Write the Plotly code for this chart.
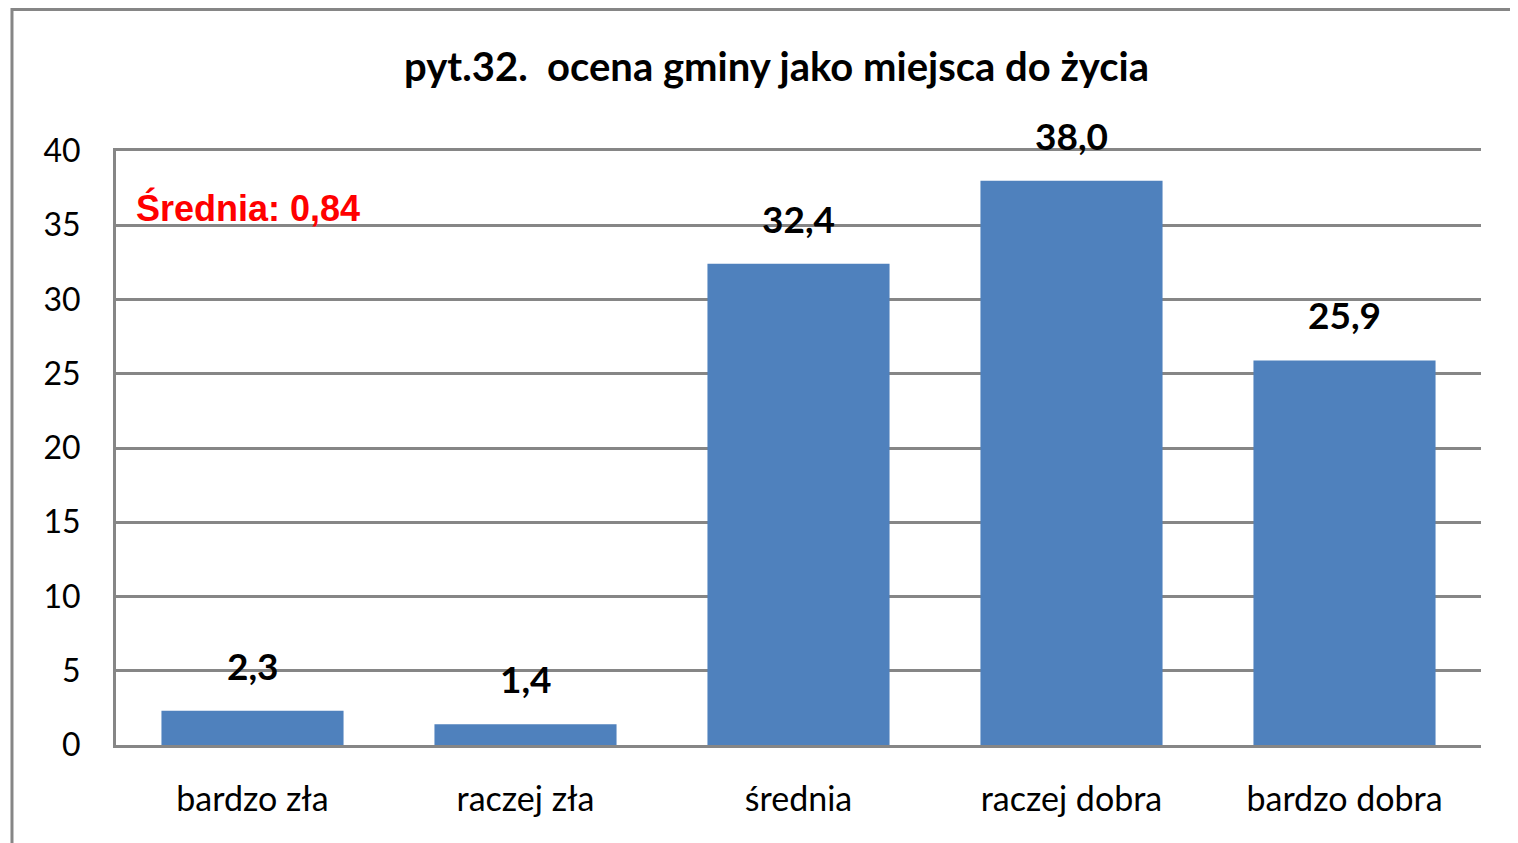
import plotly.graph_objects as go

categories = ["bardzo zła", "raczej zła", "średnia", "raczej dobra", "bardzo dobra"]
values = [2.3, 1.4, 32.4, 38.0, 25.9]
value_labels = ["2,3", "1,4", "32,4", "38,0", "25,9"]
y_ticks = [0, 5, 10, 15, 20, 25, 30, 35, 40]
title_text = "pyt.32.\u00a0 ocena gminy jako miejsca do życia"
mean_text = "Średnia: 0,84"

BAR = "#4F81BD"
GRID = "#868686"
FONT = "Lato"

fig = go.Figure()
fig.add_trace(go.Bar(x=categories, y=values, marker=dict(color=BAR, line=dict(width=0)),
                     hoverinfo="skip"))

for c, v, t in zip(categories, values, value_labels):
    fig.add_annotation(x=c, y=v, text="<b>%s</b>" % t, showarrow=False,
                       yanchor="bottom", yshift=21,
                       font=dict(family=FONT, size=37, color="black"))

fig.add_annotation(x=0.0132, y=0.904, xref="paper", yref="paper", text="<b>%s</b>" % mean_text,
                   showarrow=False, xanchor="left", yanchor="middle",
                   font=dict(family="Liberation Sans", size=36, color="#FF0000"))

# outer chart frame
fig.add_shape(type="rect", xref="paper", yref="paper", x0=-0.0762, x1=1.1, y0=-0.3, y1=1.2382,
              line=dict(color=GRID, width=3), fillcolor="rgba(0,0,0,0)", layer="below")

fig.update_layout(
    width=1510, height=835,
    margin=dict(l=108, r=37, t=143, b=98),
    paper_bgcolor="white", plot_bgcolor="white",
    bargap=0.333,
    showlegend=False,
    title=dict(text="<b>%s</b>" % title_text, x=0.509, xanchor="center", y=0.929, yanchor="middle",
               font=dict(family=FONT, size=40, color="black")),
    font=dict(family=FONT, color="black"),
)
fig.update_xaxes(showline=True, mirror=True, linecolor=GRID, linewidth=3, ticks="", showgrid=False,
                 tickfont=dict(family=FONT, size=34, color="black"), ticklabelstandoff=22)
fig.update_yaxes(range=[0, 40], tickvals=y_ticks, showline=True, linecolor=GRID, linewidth=3,
                 showgrid=True, gridcolor=GRID, gridwidth=2.5, ticks="", zeroline=False,
                 tickfont=dict(family=FONT, size=32, color="black"), ticklabelstandoff=26)

fig.write_html("out.html")
